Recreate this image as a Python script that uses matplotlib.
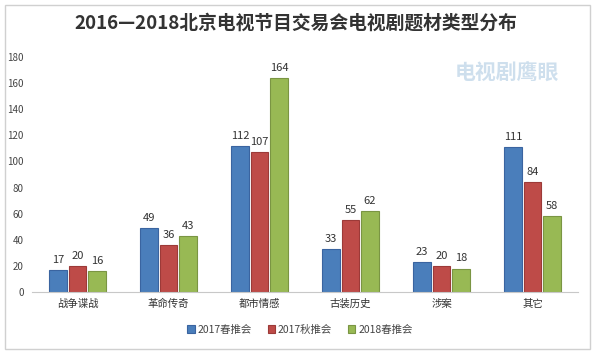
import numpy as np
import matplotlib.pyplot as plt
from matplotlib.patches import Rectangle

plt.rcParams['font.family'] = ['Noto Sans CJK SC', 'DejaVu Sans']

categories = ['战争谍战', '革命传奇', '都市情感', '古装历史', '涉案', '其它']
series_names = ['2017春推会', '2017秋推会', '2018春推会']
spring_2017 = [17, 49, 112, 33, 23, 111]
autumn_2017 = [20, 36, 107, 55, 20, 84]
spring_2018 = [16, 43, 164, 62, 18, 58]
colors = ['#4a7ebb', '#be4b48', '#98b954']
edges = ['#3a64a0', '#9c3a38', '#7a9543']

fig = plt.figure(figsize=(6, 3.53), dpi=100)
fig.patches.append(Rectangle((0.008, 0.012), 0.975, 0.975, transform=fig.transFigure,
                             fill=False, edgecolor='#d0d0d0', linewidth=1))
ax = fig.add_axes([32 / 600, 61 / 353, 546 / 600, 235 / 353])

x = np.arange(len(categories))
w = 0.19
step = 0.215
all_series = [spring_2017, autumn_2017, spring_2018]
for i, vals in enumerate(all_series):
    pos = x + (i - 1) * step
    ax.bar(pos, vals, width=w, color=colors[i], edgecolor=edges[i],
           linewidth=0.8, label=series_names[i])
    for p, v in zip(pos, vals):
        ax.text(p, v + 4, str(v), ha='center', va='bottom', fontsize=8, color='#333333')

ax.set_xlim(-0.5, len(categories) - 0.5)
ax.set_ylim(0, 180)
ax.set_yticks(range(0, 181, 20))
ax.set_xticks(x)
ax.set_xticklabels(categories, fontsize=7.5, color='#333333')
ax.tick_params(axis='y', length=0, labelsize=7, labelcolor='#444444', pad=6)
ax.tick_params(axis='x', length=0, pad=5)
for s in ['top', 'right', 'left']:
    ax.spines[s].set_visible(False)
ax.spines['bottom'].set_color('#c8c8c8')

fig.text(0.493, 0.935, '2016—2018北京电视节目交易会电视剧题材类型分布', ha='center', va='center',
         fontsize=13.5, fontweight='bold', color='#333333')
fig.text(0.845, 0.795, '电视剧鹰眼', ha='center', va='center', fontsize=15,
         fontweight='bold', style='italic', color='#c9dcec', alpha=0.9)

leg = fig.legend(loc='center', bbox_to_anchor=(0.5, 0.066), ncol=3, frameon=False,
                 fontsize=7.5, handlelength=0.7, handleheight=0.7, handletextpad=0.3,
                 columnspacing=1.5)
for t in leg.get_texts():
    t.set_color('#444444')

fig.savefig('out.png', dpi=100)
